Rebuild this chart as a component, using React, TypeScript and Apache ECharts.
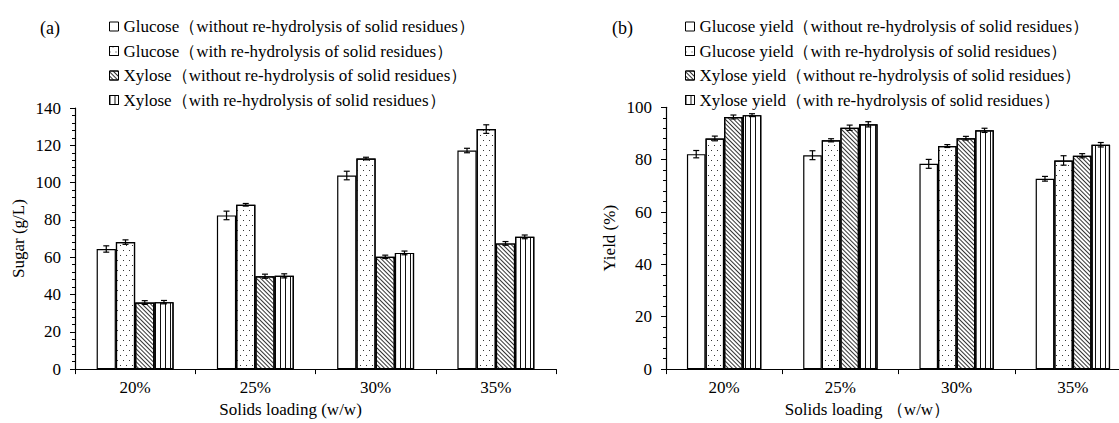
import React, { useEffect, useRef } from "react";
import * as echarts from "echarts";

// Solids loading levels
const categories = ["20%", "25%", "30%", "35%"];

// (a) sugar concentrations, g/L
const sugarGlucoseNoRe = [64.4, 82.4, 103.8, 117.2];
const sugarGlucoseRe = [68.1, 88.1, 112.9, 128.7];
const sugarXyloseNoRe = [35.7, 49.8, 60.2, 67.4];
const sugarXyloseRe = [35.9, 50.0, 62.3, 70.9];
const sugarGlucoseNoReErr = [1.7, 2.3, 2.3, 1.2];
const sugarGlucoseReErr = [1.2, 0.7, 0.7, 2.3];
const sugarXyloseNoReErr = [1.0, 1.1, 0.9, 1.0];
const sugarXyloseReErr = [0.9, 1.1, 1.0, 1.0];

// (b) yields, %
const yieldGlucoseNoRe = [82.1, 81.7, 78.4, 72.7];
const yieldGlucoseRe = [88.1, 87.4, 85.2, 79.7];
const yieldXyloseNoRe = [96.3, 92.2, 88.2, 81.5];
const yieldXyloseRe = [97.0, 93.5, 91.2, 85.7];
const yieldGlucoseNoReErr = [1.4, 1.7, 1.7, 0.9];
const yieldGlucoseReErr = [0.9, 0.6, 0.55, 1.8];
const yieldXyloseNoReErr = [0.75, 1.0, 0.7, 0.8];
const yieldXyloseReErr = [0.55, 1.0, 0.8, 0.85];

const sugarNames = [
  "Glucose（without re-hydrolysis of solid residues）",
  "Glucose（with re-hydrolysis of solid residues）",
  "Xylose（without re-hydrolysis of solid residues）",
  "Xylose（with re-hydrolysis of solid residues）",
];
const yieldNames = [
  "Glucose yield（without re-hydrolysis of solid residues）",
  "Glucose yield（with re-hydrolysis of solid residues）",
  "Xylose yield（without re-hydrolysis of solid residues）",
  "Xylose yield（with re-hydrolysis of solid residues）",
];

const FONT = "Liberation Serif";
const FS = 17;
const BAR_SHARE = 0.64; // part of each category band covered by the 4 bars

// Fill patterns: plain, dotted, diagonal hatch, vertical stripes
const decals: any[] = [
  null,
  {
    symbol: "rect",
    symbolSize: 1,
    color: "#333",
    dashArrayX: [[1, 5], [0, 3, 1, 2]],
    dashArrayY: [1, 4],
  },
  {
    symbol: "rect",
    symbolSize: 1,
    color: "#333",
    dashArrayX: [1, 0],
    dashArrayY: [0.7, 1.6],
    rotation: Math.PI / 4,
  },
  {
    symbol: "rect",
    symbolSize: 1,
    color: "#111",
    dashArrayX: [1, 3.6],
    dashArrayY: [1, 0],
  },
];

function barSeries(names: string[], values: number[][], axisIdx: number) {
  return names.map((name, i) => ({
    type: "bar",
    name,
    xAxisIndex: axisIdx,
    yAxisIndex: axisIdx,
    data: values[i],
    barGap: "0%",
    barCategoryGap: `${Math.round((1 - BAR_SHARE) * 100)}%`,
    itemStyle: {
      color: "#fff",
      borderColor: "#000",
      borderWidth: 1.2,
      decal: decals[i] || undefined,
    },
    emphasis: { disabled: true },
  }));
}

function errorSeries(values: number[][], errs: number[][], axisIdx: number) {
  const data: number[][] = [];
  values.forEach((vals, s) => {
    vals.forEach((v, c) => data.push([c, s, v, errs[s][c]]));
  });
  return {
    type: "custom",
    xAxisIndex: axisIdx,
    yAxisIndex: axisIdx,
    z: 10,
    silent: true,
    encode: { x: 0, y: 2 },
    data,
    renderItem: (_params: any, api: any) => {
      const c = api.value(0);
      const s = api.value(1);
      const v = api.value(2);
      const e = api.value(3);
      const band = api.size([1, 0])[0];
      const bw = (band * BAR_SHARE) / 4;
      const cx = api.coord([c, v])[0] + (s - 1.5) * bw;
      const yTop = api.coord([c, v + e])[1];
      const yBot = api.coord([c, v - e])[1];
      const half = 3;
      const style = { stroke: "#000", lineWidth: 1.2 };
      return {
        type: "group",
        children: [
          { type: "line", shape: { x1: cx, y1: yTop, x2: cx, y2: yBot }, style },
          { type: "line", shape: { x1: cx - half, y1: yTop, x2: cx + half, y2: yTop }, style },
          { type: "line", shape: { x1: cx - half, y1: yBot, x2: cx + half, y2: yBot }, style },
        ],
      };
    },
  };
}

function valueAxis(gridIndex: number, max: number, name: string) {
  return {
    type: "value",
    gridIndex,
    min: 0,
    max,
    interval: 20,
    name,
    nameLocation: "middle",
    nameGap: 48,
    nameTextStyle: { fontSize: FS, color: "#000", fontFamily: FONT },
    axisLine: { show: true, lineStyle: { color: "#000", width: 1.2 } },
    axisTick: { show: true, inside: false, length: 5, lineStyle: { color: "#000" } },
    minorTick: { show: true, splitNumber: 5, length: 3, lineStyle: { color: "#000" } },
    splitLine: { show: false },
    axisLabel: { fontSize: FS, color: "#000", margin: 14, fontFamily: FONT },
  };
}

function categoryAxis(gridIndex: number, name: string, shift: number) {
  return {
    type: "category",
    gridIndex,
    data: categories,
    name,
    nameLocation: "middle",
    nameGap: 30,
    nameTextStyle: {
      fontSize: FS,
      color: "#000",
      fontFamily: FONT,
      padding: [0, shift, 0, 0],
    },
    axisLine: { lineStyle: { color: "#000", width: 1.2 } },
    axisTick: { show: true, length: 5, alignWithLabel: false, lineStyle: { color: "#000" } },
    axisLabel: { fontSize: FS, color: "#000", margin: 10, fontFamily: FONT },
  };
}

function legend(names: string[], left: number) {
  return {
    data: names.map((name) => ({ name, icon: "rect" })),
    orient: "vertical",
    left,
    top: 13,
    itemWidth: 9,
    itemHeight: 9,
    itemGap: 7.5,
    selectedMode: false,
    itemStyle: { borderColor: "#000", borderWidth: 1 },
    textStyle: { fontSize: FS, lineHeight: 17, color: "#000", fontFamily: FONT },
  };
}

export default function App() {
  const ref = useRef<HTMLDivElement>(null);

  useEffect(() => {
    if (!ref.current) return;
    const chart = echarts.init(ref.current, undefined, { renderer: "svg" });
    const sugarVals = [sugarGlucoseNoRe, sugarGlucoseRe, sugarXyloseNoRe, sugarXyloseRe];
    const sugarErrs = [sugarGlucoseNoReErr, sugarGlucoseReErr, sugarXyloseNoReErr, sugarXyloseReErr];
    const yieldVals = [yieldGlucoseNoRe, yieldGlucoseRe, yieldXyloseNoRe, yieldXyloseRe];
    const yieldErrs = [yieldGlucoseNoReErr, yieldGlucoseReErr, yieldXyloseNoReErr, yieldXyloseReErr];

    chart.setOption({
      animation: false,
      backgroundColor: "#fff",
      textStyle: { fontFamily: FONT },
      legend: [legend(sugarNames, 104), legend(yieldNames, 680)],
      grid: [
        { left: 75, top: 108, width: 481, height: 268 },
        { left: 666, top: 107.3, width: 465, height: 268.4 },
      ],
      xAxis: [
        categoryAxis(0, "Solids loading (w/w)", 50),
        categoryAxis(1, "Solids loading （w/w）", 62),
      ],
      yAxis: [valueAxis(0, 140, "Sugar (g/L)"), valueAxis(1, 100, "Yield (%)")],
      graphic: [
        {
          type: "text",
          left: 40,
          top: 19,
          style: { text: "(a)", fontSize: 18, fill: "#000", fontFamily: FONT },
        },
        {
          type: "text",
          left: 612,
          top: 19,
          style: { text: "(b)", fontSize: 18, fill: "#000", fontFamily: FONT },
        },
      ],
      series: [
        ...barSeries(sugarNames, sugarVals, 0),
        errorSeries(sugarVals, sugarErrs, 0),
        ...barSeries(yieldNames, yieldVals, 1),
        errorSeries(yieldVals, yieldErrs, 1),
      ],
    });

    return () => chart.dispose();
  }, []);

  return (
    <div
      ref={ref}
      style={{ position: "fixed", left: 0, top: 0, width: 1140, height: 423 }}
    />
  );
}
